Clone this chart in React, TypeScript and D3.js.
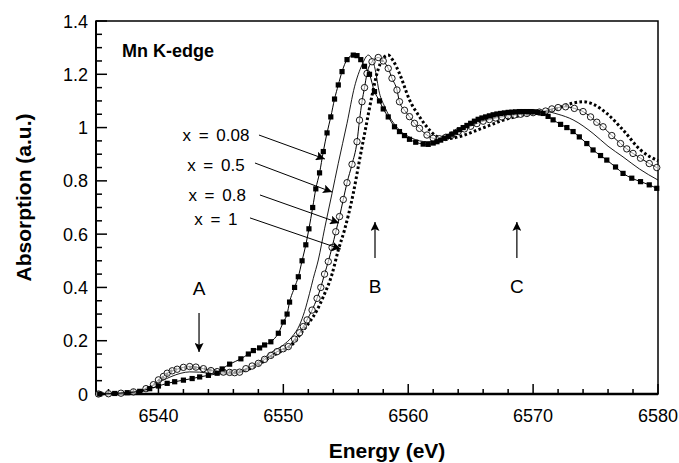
import React from "react";
import * as d3 from "d3";

// ---- data ----
const s008E = [6535.3,6536.5,6537.5,6538.5,6539.3,6540.0,6540.7,6541.3,6542.0,6542.7,6543.3,6544.0,6544.7,6545.1,6545.7,6546.6,6547.2,6547.6,6548.1,6548.5,6549.0,6549.6,6550.0,6550.3,6550.5,6550.9,6551.2,6551.5,6551.8,6552.05,6552.35,6552.6,6552.9,6553.2,6553.5,6553.8,6554.1,6554.4,6554.7,6555.1,6555.6,6555.9,6556.2,6556.5,6556.9,6557.3,6557.7,6558.0,6558.4,6558.9,6559.3,6559.7,6560.1,6560.6,6561.2,6561.6,6562.0,6562.3,6562.6,6562.9,6563.2,6563.5,6563.8,6564.1,6564.4,6564.7,6565.0,6565.3,6565.6,6565.9,6566.2,6566.5,6566.8,6567.1,6567.4,6567.7,6568.0,6568.3,6568.6,6568.9,6569.2,6569.5,6569.8,6570.1,6570.4,6570.8,6571.2,6571.6,6572.2,6572.7,6573.2,6573.7,6574.3,6574.8,6575.4,6575.9,6576.6,6577.2,6577.9,6578.6,6579.3,6579.9];
const s008A = [0.0,0.002,0.005,0.01,0.02,0.03,0.04,0.046,0.052,0.058,0.064,0.07,0.078,0.094,0.112,0.132,0.15,0.163,0.173,0.184,0.196,0.228,0.27,0.30,0.345,0.40,0.44,0.50,0.56,0.62,0.70,0.77,0.83,0.91,0.98,1.04,1.107,1.16,1.21,1.255,1.272,1.27,1.255,1.23,1.20,1.135,1.10,1.07,1.04,1.003,0.985,0.97,0.956,0.945,0.938,0.937,0.942,0.947,0.953,0.96,0.967,0.975,0.983,0.992,1.0,1.008,1.016,1.024,1.031,1.036,1.04,1.044,1.048,1.051,1.053,1.055,1.057,1.058,1.059,1.06,1.06,1.06,1.06,1.059,1.057,1.053,1.042,1.029,1.012,1.0,0.985,0.965,0.94,0.916,0.895,0.878,0.852,0.828,0.81,0.797,0.785,0.772];

const s05E = [6535,6537,6538.5,6539.5,6540.3,6541,6541.8,6542.5,6543.3,6544,6545,6546,6546.8,6547.5,6548.3,6549,6550,6550.7,6551.3,6551.7,6552.1,6552.4,6552.8,6553.3,6553.9,6554.4,6555.1,6555.7,6556.3,6556.8,6557.3,6557.7,6558.1,6558.5,6559.3,6560.3,6561.5,6562.5,6563.5,6565,6566.5,6568,6569.5,6571,6572,6573.2,6574.8,6576,6577.2,6578.5,6580];
const s05A = [0.0,0.003,0.012,0.03,0.05,0.065,0.078,0.083,0.082,0.078,0.075,0.076,0.085,0.105,0.13,0.155,0.184,0.215,0.259,0.31,0.378,0.434,0.503,0.62,0.753,0.866,1.016,1.153,1.235,1.272,1.229,1.129,1.08,1.041,0.991,0.96,0.947,0.95,0.975,1.01,1.035,1.048,1.055,1.06,1.05,1.029,0.978,0.93,0.89,0.845,0.803];

const s08E = [6535.2,6536,6537,6538,6539,6539.6,6540,6540.4,6540.7,6541.1,6541.5,6542,6542.5,6543,6543.6,6544.2,6544.7,6545.2,6545.7,6546.1,6546.5,6547,6547.5,6548,6548.5,6549,6549.5,6550,6550.4,6550.9,6551.3,6551.6,6551.9,6552.3,6552.7,6553.0,6553.3,6553.6,6553.9,6554.2,6554.5,6554.8,6555.1,6555.5,6555.9,6556.1,6556.3,6556.5,6556.7,6557.1,6557.6,6558.0,6558.4,6558.7,6559.1,6559.3,6559.7,6560.1,6560.5,6560.9,6561.5,6562.0,6562.5,6563.0,6563.5,6564.0,6564.5,6565.0,6565.5,6566.0,6566.5,6567.0,6567.5,6568.0,6568.5,6569.0,6569.5,6570.0,6570.5,6571.0,6571.5,6572.0,6572.6,6573.3,6574.0,6574.6,6575.1,6575.6,6576.3,6577.0,6577.5,6578.0,6578.6,6579.3,6579.9];
const s08A = [0.0,0.001,0.003,0.008,0.02,0.035,0.053,0.066,0.078,0.087,0.093,0.1,0.103,0.101,0.095,0.088,0.084,0.082,0.081,0.08,0.082,0.095,0.105,0.115,0.13,0.145,0.159,0.17,0.178,0.206,0.23,0.253,0.278,0.315,0.359,0.40,0.45,0.497,0.55,0.609,0.666,0.73,0.793,0.862,0.947,1.028,1.097,1.15,1.203,1.247,1.263,1.25,1.222,1.185,1.141,1.097,1.065,1.041,1.016,0.997,0.972,0.96,0.958,0.963,0.972,0.985,0.995,1.005,1.015,1.024,1.03,1.036,1.04,1.044,1.047,1.05,1.053,1.056,1.058,1.062,1.07,1.075,1.078,1.072,1.06,1.04,1.02,1.003,0.97,0.94,0.92,0.903,0.885,0.865,0.85];

const s1E = [6535,6537,6538.5,6539.5,6540.3,6541,6541.8,6542.5,6543.3,6544.2,6545.2,6546.2,6547,6548,6549,6550,6550.8,6551.5,6552.1,6552.7,6553.2,6553.9,6554.4,6554.9,6555.6,6556.1,6556.6,6557.1,6557.6,6558.0,6558.4,6558.8,6559.3,6560.1,6560.9,6561.7,6562.3,6562.9,6563.5,6564.5,6565.5,6566.5,6567.5,6568.5,6569.5,6570.5,6571.5,6572.5,6573.3,6574,6574.8,6575.9,6577.2,6578.6,6580];
const s1A = [0.0,0.003,0.01,0.03,0.06,0.085,0.097,0.1,0.097,0.09,0.085,0.082,0.09,0.11,0.14,0.165,0.19,0.234,0.27,0.315,0.365,0.45,0.54,0.616,0.753,0.878,1.0,1.12,1.22,1.26,1.272,1.25,1.203,1.104,1.041,0.991,0.966,0.957,0.96,0.972,0.99,1.008,1.026,1.04,1.05,1.057,1.065,1.082,1.093,1.097,1.088,1.053,0.991,0.916,0.875];

const yTicks = [0, 0.2, 0.4, 0.6, 0.8, 1, 1.2, 1.4];
const yTickLabels = ["0", "0.2", "0.4", "0.6", "0.8", "1", "1.2", "1.4"];
const xTicks = [6540, 6550, 6560, 6570, 6580];

// annotations (data coordinates)
const seriesLabels = ["x = 0.08", "x = 0.5", "x = 0.8", "x = 1"];
const labelE = [6544.6, 6544.6, 6544.7, 6544.6];
const labelA = [0.972, 0.86, 0.748, 0.655];
const arrowStartE = [6548.05, 6547.73, 6548.13, 6547.33];
const arrowStartA = [0.972, 0.867, 0.747, 0.661];
const arrowTipE = [6553.33, 6553.9, 6554.46, 6554.6];
const arrowTipA = [0.882, 0.758, 0.642, 0.544];

const featureLabels = ["A", "B", "C"];
const featureE = [6543.25, 6557.34, 6568.7];
const featureFromA = [0.304, 0.51, 0.51];
const featureToA = [0.158, 0.646, 0.646];
const featureLabelA = [0.372, 0.379, 0.379];

const W = 679, H = 463;
const M = { left: 96, right: 658, top: 21, bottom: 394 };

export default function App() {
  const x = d3.scaleLinear().domain([6535, 6580]).range([M.left, M.right]);
  const y = d3.scaleLinear().domain([0, 1.4]).range([M.bottom, M.top]);
  const mk = (E: number[], A: number[]) => E.map((e, i) => [e, A[i]] as [number, number]);
  const line = d3.line<[number, number]>().x(d => x(d[0])).y(d => y(d[1])).curve(d3.curveMonotoneX);
  const d008 = mk(s008E, s008A), d05 = mk(s05E, s05A), d08 = mk(s08E, s08A), d1 = mk(s1E, s1A);

  const xMinor = d3.range(6536, 6580, 2).filter(v => !xTicks.includes(v));
  const yMinor = d3.range(0.05, 1.4, 0.05).filter(v => Math.abs(v * 5 - Math.round(v * 5)) > 1e-6);
  const font = "Liberation Sans, Arial, sans-serif";

  return (
    <svg width={W} height={H} style={{ position: "absolute", left: 0, top: 0, background: "#fff" }} fontFamily={font}>
      <defs>
        <marker id="ah" viewBox="0 0 10 10" refX="10" refY="5" markerWidth="13" markerHeight="9" markerUnits="userSpaceOnUse" orient="auto">
          <path d="M0,0 L10,5 L0,10 L2,5 Z" fill="#000" />
        </marker>
      </defs>
      <rect x={0} y={0} width={W} height={H} fill="#fff" />
      {/* frame */}
      <rect x={M.left} y={M.top} width={M.right - M.left} height={M.bottom - M.top} fill="none" stroke="#000" strokeWidth={1.5} />
      <line x1={M.left} x2={M.right} y1={M.bottom} y2={M.bottom} stroke="#000" strokeWidth={2.5} />
      <line x1={M.left} x2={M.left} y1={M.top} y2={M.bottom} stroke="#000" strokeWidth={2} />
      {/* ticks */}
      {xTicks.map(t => <line key={"xt" + t} x1={x(t)} x2={x(t)} y1={M.bottom} y2={M.bottom - 10} stroke="#000" strokeWidth={1.5} />)}
      {xMinor.map(t => <line key={"xm" + t} x1={x(t)} x2={x(t)} y1={M.bottom} y2={M.bottom - 5} stroke="#000" strokeWidth={1.5} />)}
      {yTicks.map(t => <line key={"yt" + t} x1={M.left} x2={M.left + 11} y1={y(t)} y2={y(t)} stroke="#000" strokeWidth={1.5} />)}
      {yMinor.map(t => <line key={"ym" + t} x1={M.left} x2={M.left + 6} y1={y(t)} y2={y(t)} stroke="#000" strokeWidth={1.5} />)}
      {xTicks.map(t => <text key={"xl" + t} x={x(t)} y={422} fontSize={18} textAnchor="middle">{t}</text>)}
      {yTicks.map((t, i) => <text key={"yl" + t} x={88} y={y(t) + 6.5} fontSize={18} textAnchor="end">{yTickLabels[i]}</text>)}
      {/* axis titles */}
      <text x={387} y={458} fontSize={21} fontWeight="bold" textAnchor="middle">Energy (eV)</text>
      <text transform="translate(31,197.5) rotate(-90)" fontSize={21} fontWeight="bold" textAnchor="middle">Absorption (a.u.)</text>
      <text x={122} y={57} fontSize={18} fontWeight="bold">Mn K-edge</text>

      {/* series */}
      <path d={line(d1) || ""} fill="none" stroke="#000" strokeWidth={3} strokeDasharray="2.6 2.4" />
      <path d={line(d05) || ""} fill="none" stroke="#000" strokeWidth={0.9} />
      <path d={line(d08) || ""} fill="none" stroke="#000" strokeWidth={1} />
      {d08.map((p, i) => <circle key={"c" + i} cx={x(p[0])} cy={y(p[1])} r={3.2} fill="#fff" fillOpacity={0.6} stroke="#000" strokeWidth={0.9} />)}
      <path d={line(d008) || ""} fill="none" stroke="#000" strokeWidth={1} />
      {d008.map((p, i) => <rect key={"s" + i} x={x(p[0]) - 2.6} y={y(p[1]) - 2.6} width={5.2} height={5.2} fill="#000" />)}

      {/* series annotations */}
      {seriesLabels.map((l, i) => (
        <g key={"ann" + i}>
          <text x={x(labelE[i])} y={y(labelA[i]) + 6} fontSize={17} textAnchor="middle" wordSpacing={3}>{l}</text>
          <line x1={x(arrowStartE[i])} y1={y(arrowStartA[i])} x2={x(arrowTipE[i])} y2={y(arrowTipA[i])} stroke="#000" strokeWidth={1} markerEnd="url(#ah)" />
        </g>
      ))}
      {featureLabels.map((l, i) => (
        <g key={"f" + i}>
          <text x={x(featureE[i])} y={y(featureLabelA[i])} fontSize={19} textAnchor="middle">{l}</text>
          <line x1={x(featureE[i])} y1={y(featureFromA[i])} x2={x(featureE[i])} y2={y(featureToA[i])} stroke="#000" strokeWidth={1.2} markerEnd="url(#ah)" />
        </g>
      ))}
    </svg>
  );
}
